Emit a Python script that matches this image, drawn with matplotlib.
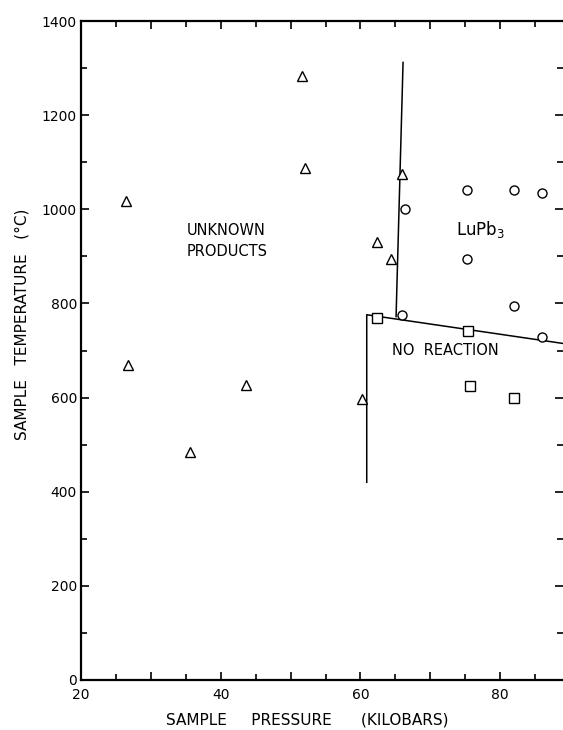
import matplotlib
matplotlib.use('Agg')
import matplotlib.pyplot as plt
from matplotlib.ticker import MultipleLocator, FuncFormatter

# data (kilobars, deg C)
tri_p = [26.4, 26.7, 35.6, 43.6, 51.6, 52.0, 60.2, 62.3, 64.4, 66.0]
tri_t = [1018, 670, 484, 626, 1284, 1087, 597, 930, 895, 1075]

circ_p = [75.3, 82.0, 86.0, 66.4, 75.3, 82.0, 66.0, 86.0]
circ_t = [1040, 1040, 1035, 1000, 895, 795, 776, 728]

sq_p = [62.3, 75.4, 75.7, 82.0]
sq_t = [770, 742, 625, 600]

# phase boundaries
low_p = [60.9, 60.9, 89.0]
low_t = [420, 776, 715]
up_p = [65.1, 66.1]
up_t = [772, 1312]

fig = plt.figure(figsize=(5.63, 7.30), dpi=100)
ax = fig.add_axes([0.144, 0.0685, 0.856, 0.9027])

ax.plot(low_p, low_t, color='black', lw=1.1)
ax.plot(up_p, up_t, color='black', lw=1.1)

ax.plot(tri_p, tri_t, '^', ms=7, mfc='white', mec='black', mew=1.0, clip_on=False)
ax.plot(circ_p, circ_t, 'o', ms=6.5, mfc='white', mec='black', mew=1.0, clip_on=False)
ax.plot(sq_p, sq_t, 's', ms=6.5, mfc='white', mec='black', mew=1.0, clip_on=False)

ax.text(35.1, 932, 'UNKNOWN\nPRODUCTS', fontsize=10.5, va='center', ha='left',
        linespacing=1.5)
ax.text(73.7, 958, 'LuPb$_3$', fontsize=12, va='center', ha='left')
ax.text(64.5, 700, 'NO  REACTION', fontsize=10.5, va='center', ha='left')

ax.set_xlim(20, 89)
ax.set_ylim(0, 1400)
ax.xaxis.set_major_locator(MultipleLocator(10))
ax.xaxis.set_minor_locator(MultipleLocator(5))
ax.xaxis.set_major_formatter(FuncFormatter(lambda v, p: '%d' % v if v % 20 == 0 else ''))
ax.yaxis.set_major_locator(MultipleLocator(200))
ax.yaxis.set_minor_locator(MultipleLocator(100))
ax.tick_params(which='both', direction='in', top=True, right=True, width=1.2,
               labelsize=10)
ax.tick_params(which='major', length=6)
ax.tick_params(which='minor', length=4)
ax.tick_params(axis='x', pad=6)
ax.tick_params(axis='y', pad=3)
for s in ax.spines.values():
    s.set_linewidth(1.6)
ax.spines['right'].set_visible(False)

ax.set_xlabel('SAMPLE     PRESSURE      (KILOBARS)', fontsize=11, va='center')
ax.set_ylabel('SAMPLE   TEMPERATURE   (°C)', fontsize=11, va='center')
ax.xaxis.set_label_coords(0.47, -0.061)
ax.yaxis.set_label_coords(-0.123, 0.539)

plt.savefig('out.png', dpi=100)
